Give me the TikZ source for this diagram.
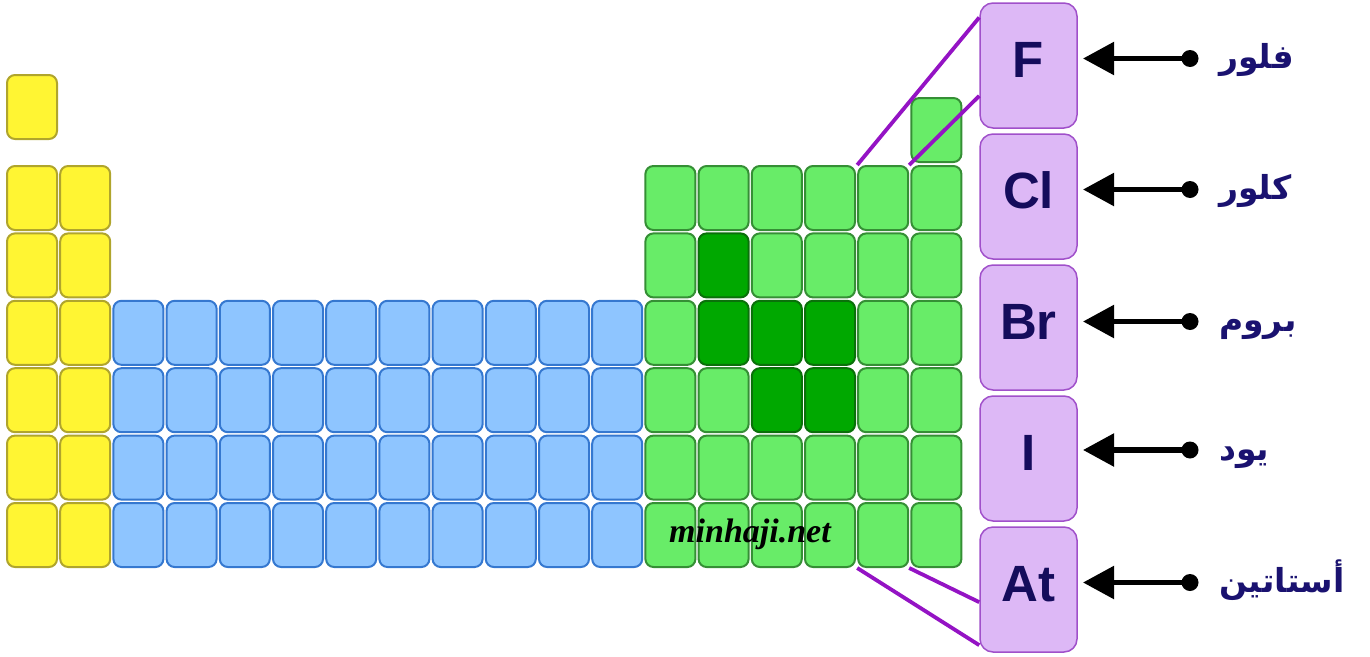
\documentclass[tikz,border=0pt]{standalone}
\usepackage{fontspec}
\setmainfont{Liberation Sans}
\newfontfamily\arabicfont[Script=Arabic]{DejaVu Sans}
\newfontfamily\wmfont{Liberation Serif}
\TeXXeTstate=1
\usetikzlibrary{arrows.meta,calc}
\definecolor{ylfill}{HTML}{FFF533}
\definecolor{yldraw}{HTML}{B0A52C}
\definecolor{blfill}{HTML}{8EC5FF}
\definecolor{bldraw}{HTML}{3578D0}
\definecolor{grfill}{HTML}{68EC68}
\definecolor{grdraw}{HTML}{358F35}
\definecolor{dgfill}{HTML}{00A800}
\definecolor{dgdraw}{HTML}{0A700A}
\definecolor{pufill}{HTML}{DDB8F6}
\definecolor{pudraw}{HTML}{A050CA}
\definecolor{puline}{HTML}{9413C4}
\definecolor{navy}{HTML}{150C5C}
\definecolor{labnavy}{HTML}{1A1270}
\tikzset{
  cell/.style={rectangle,rounded corners=8pt,minimum width=50pt,minimum height=64pt,inner sep=0pt,line width=2pt,anchor=north west},
  ycell/.style={cell,fill=ylfill,draw=yldraw},
  bcell/.style={cell,fill=blfill,draw=bldraw},
  gcell/.style={cell,fill=grfill,draw=grdraw},
  dgcell/.style={fill=dgfill,draw=dgdraw},
  st3-14/.style={dgcell}, st4-14/.style={dgcell}, st4-15/.style={dgcell},
  st4-16/.style={dgcell}, st5-15/.style={dgcell}, st5-16/.style={dgcell},
  ebox/.style={rectangle,rounded corners=13pt,minimum width=97pt,minimum height=125pt,inner sep=0pt,
    fill=pufill,draw=pudraw,line width=1.5pt,text=navy,
    font=\fontsize{51}{51}\selectfont\bfseries,text height=37pt,text depth=14pt},
  pline/.style={draw=puline,line width=3.8pt},
  dot/.style={circle,fill=black,minimum size=17pt,inner sep=0pt},
  arr/.style={line width=5.5pt,-{Triangle[length=31pt,width=32pt]}},
  arlab/.style={text=labnavy,font=\arabicfont\fontsize{33}{33}\selectfont\bfseries,inner sep=0pt,anchor=base west},
}
\begin{document}
\begin{tikzpicture}[x=1pt,y=-1pt]
\useasboundingbox (0,0) rectangle (1370,656);
% period 1
\node[ycell] (c1-1) at (6,74) {};
\node[gcell] (c1-18) at ({6+17*53.2},97) {};
% s-block
\foreach \r in {2,...,7}{
  \foreach \c in {1,2}{
    \node[ycell] (c\r-\c) at ({6+(\c-1)*53.2},{165+(\r-2)*67.4}) {};
  }
}
% d-block
\foreach \r in {4,...,7}{
  \foreach \c in {3,...,12}{
    \node[bcell] (c\r-\c) at ({6+(\c-1)*53.2},{165+(\r-2)*67.4}) {};
  }
}
% p-block
\foreach \r in {2,...,7}{
  \foreach \c in {13,...,18}{
    \node[gcell,st\r-\c/.try] (c\r-\c) at ({6+(\c-1)*53.2},{165+(\r-2)*67.4}) {};
  }
}
% watermark
\node[font=\wmfont\itshape\bfseries\fontsize{34}{34}\selectfont,anchor=base west,inner sep=0pt] (wm) at (669,542) {minhaji.net};
% element boxes
\node[ebox] (F)  at (1028.5,65.5)  {F};
\node[ebox] (Cl) at (1028.5,196.5) {Cl};
\node[ebox] (Br) at (1028.5,327.5) {Br};
\node[ebox] (I)  at (1028.5,458.5) {I};
\node[ebox] (At) at (1028.5,589.5) {At};
% zoom lines
\draw[pline] (c2-17.north west) -- ($(F.north west)!0.12!(F.south west)$);
\draw[pline] (c2-17.north east) -- ($(F.north west)!0.74!(F.south west)$);
\draw[pline] (c7-17.south west) -- ($(At.north west)!0.94!(At.south west)$);
\draw[pline] (c7-17.south east) -- ($(At.north west)!0.60!(At.south west)$);
% arrows and labels
\foreach \n/\y/\lab in {F/58.5/فلور, Cl/189.5/كلور, Br/321.5/بروم, I/450/يود, At/582.5/أستاتين}{
  \node[dot] (d\n) at (1190,\y) {};
  \coordinate (t\n) at (1083,\y);
  \draw[arr] (d\n.center) -- (t\n);
  \node[arlab] (l\n) at (1219,\y+10) {\beginR\lab\endR};
}
\end{tikzpicture}
\end{document}
